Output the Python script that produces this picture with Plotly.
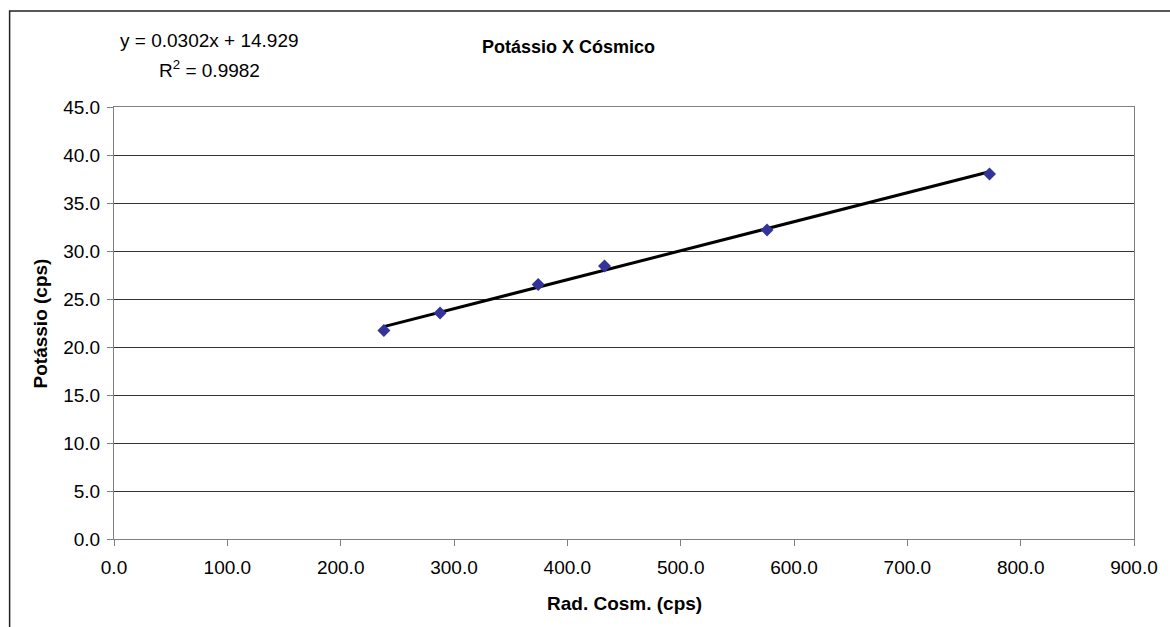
import plotly.graph_objects as go

# Data
rad_cosm = [238.1, 287.7, 374.3, 432.8, 576.2, 772.5]
potassio = [21.73, 23.54, 26.51, 28.43, 32.20, 38.03]
slope = 0.0302
intercept = 14.929
r2 = 0.9982
x_ticks = [0, 100, 200, 300, 400, 500, 600, 700, 800, 900]
y_ticks = [0, 5, 10, 15, 20, 25, 30, 35, 40, 45]

FONT = "Liberation Sans, Arial, sans-serif"

x_fit = [min(rad_cosm), max(rad_cosm)]
y_fit = [slope * v + intercept for v in x_fit]

fig = go.Figure()
fig.add_trace(go.Scatter(
    x=x_fit, y=y_fit, mode="lines",
    line=dict(color="black", width=3), showlegend=False, hoverinfo="skip"))
fig.add_trace(go.Scatter(
    x=rad_cosm, y=potassio, mode="markers",
    marker=dict(symbol="diamond", size=10, color="#333399",
                line=dict(color="#333399", width=0)),
    showlegend=False))

W, H = 1170, 627
L, R, T, B = 114, 30, 107, 88
pw = W - L - R
ph = H - T - B

def px_x(p):
    return (p - L) / pw

def px_y(p):
    return (H - B - p) / ph

fig.update_layout(
    width=W, height=H,
    margin=dict(l=L, r=R, t=T, b=B),
    paper_bgcolor="white", plot_bgcolor="white",
    font=dict(family=FONT, size=19, color="black"),
    xaxis=dict(
        range=[0, 900], tickvals=x_ticks,
        ticktext=[f"{v:.1f}" for v in x_ticks],
        showgrid=False, zeroline=False,
        showline=True, linecolor="#808080", linewidth=1, mirror=True,
        ticks="outside", ticklen=6, tickcolor="#808080", tickwidth=1,
        ticklabelstandoff=5,
        tickfont=dict(size=19, family=FONT), fixedrange=True),
    yaxis=dict(
        range=[0, 45], tickvals=y_ticks,
        ticktext=[f"{v:.1f}" for v in y_ticks],
        showgrid=True, gridcolor="#333333", gridwidth=1, zeroline=False,
        showline=True, linecolor="#808080", linewidth=1, mirror=True,
        ticks="outside", ticklen=6, tickcolor="#808080", tickwidth=1,
        ticklabelstandoff=3,
        tickfont=dict(size=19, family=FONT), fixedrange=True),
    shapes=[dict(type="rect", xref="paper", yref="paper",
                 x0=px_x(9), x1=px_x(1180), y0=px_y(640), y1=px_y(11),
                 line=dict(color="#222222", width=1.5), fillcolor="rgba(0,0,0,0)",
                 layer="below")],
    annotations=[
        dict(text="<b>Potássio X Cósmico</b>", xref="paper", yref="paper",
             x=px_x(571), y=px_y(47), showarrow=False, xanchor="center", yanchor="middle",
             font=dict(size=18, family=FONT)),
        dict(text=f"y = {slope}x + {intercept}", xref="paper", yref="paper",
             x=px_x(210), y=px_y(40), showarrow=False, xanchor="center", yanchor="middle",
             font=dict(size=19, family=FONT)),
        dict(text=f"R<sup>2</sup> = {r2}", xref="paper", yref="paper",
             x=px_x(210), y=px_y(69), showarrow=False, xanchor="center", yanchor="middle",
             font=dict(size=19, family=FONT)),
        dict(text="<b>Rad. Cosm. (cps)</b>", xref="paper", yref="paper",
             x=px_x(627), y=px_y(603), showarrow=False, xanchor="center", yanchor="middle",
             font=dict(size=19, family=FONT)),
        dict(text="<b>Potássio (cps)</b>", xref="paper", yref="paper",
             x=px_x(40), y=px_y(323), showarrow=False, xanchor="center", yanchor="middle",
             textangle=-90, font=dict(size=19, family=FONT)),
    ],
)

fig.write_html("out.html")
